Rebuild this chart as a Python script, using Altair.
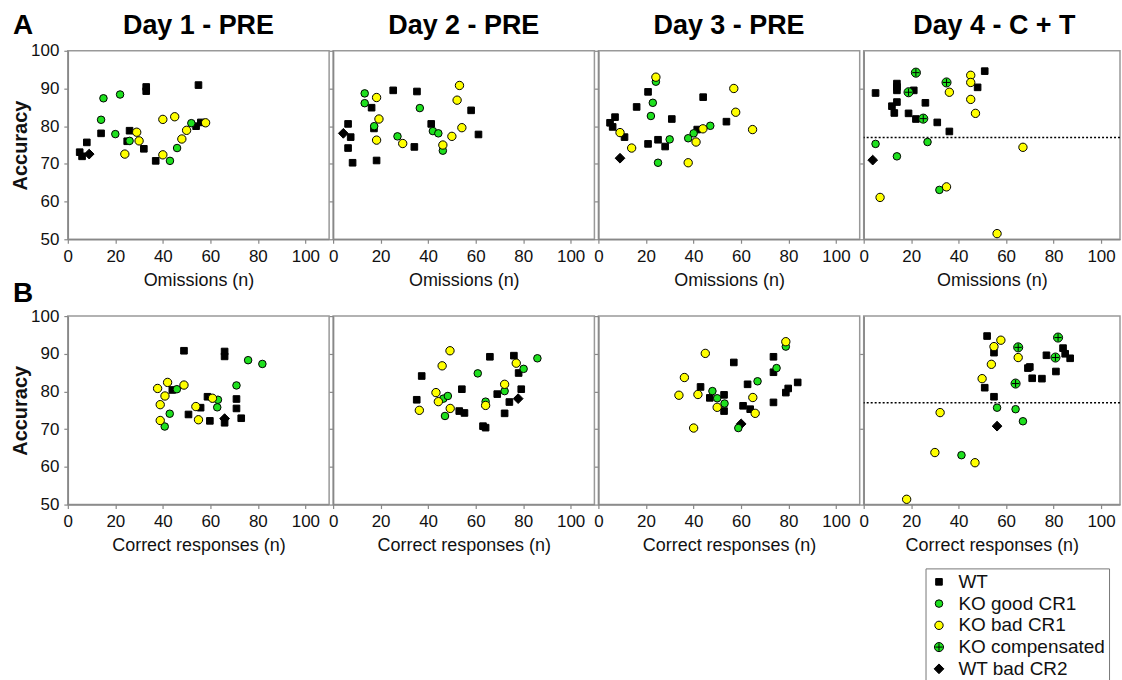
import altair as alt
import pandas as pd

# ---------------- data ----------------
GROUPS = ["WT", "KO good CR1", "KO bad CR1", "KO compensated", "WT bad CR2"]
DAY_TITLES = ["Day 1 - PRE", "Day 2 - PRE", "Day 3 - PRE", "Day 4 - C + T"]
ROW_LABELS = ["A", "B"]
X_TITLES = ["Omissions (n)", "Correct responses (n)"]
X_TICKS = [0, 20, 40, 60, 80, 100]
Y_TICKS = [50, 60, 70, 80, 90, 100]
THRESHOLD = [77]

# Row A: omissions vs accuracy
A1_WT = [(5, 73.1), (6, 72), (8, 75.7), (14, 78.1), (26, 78.8), (25, 76), (33, 90.4), (33, 89.3),
         (32, 74), (37, 70.8), (55, 90.9), (54, 80), (56, 81)]
A1_WTBAD = [(9, 72.6)]
A1_GOOD = [(15, 87.4), (22, 88.4), (14, 81.7), (20, 77.9), (26, 76.1), (43, 70.8), (46, 74.2), (52, 80.8)]
A1_BAD = [(24, 72.6), (29, 78.4), (30, 76.1), (40, 81.8), (45, 82.5), (40, 72.4), (50, 78.9), (48, 76.6), (58, 80.9)]
A1_COMP = []

A2_WT = [(6.3, 80.6), (7.4, 77.1), (6.3, 74.2), (8.2, 70.3), (16.2, 84.9), (17.2, 79.4), (18.3, 70.9),
         (25.3, 89.5), (35.3, 89.2), (34.2, 74.5), (41.3, 80.6), (58.1, 84.2), (61.2, 77.8)]
A2_WTBAD = [(4.3, 78.1)]
A2_GOOD = [(13.3, 88.7), (13.3, 86.1), (17.3, 80), (36.5, 84.8), (27.1, 77.3), (42, 78.7), (44.3, 78.1), (46.2, 73.5)]
A2_BAD = [(18.3, 87.6), (19.3, 81.9), (18.3, 76.3), (29.3, 75.4), (46.2, 75), (50, 77.3), (53.2, 90.8),
          (52.2, 86.9), (54.2, 79.6)]
A2_COMP = []

A3_WT = [(4.9, 80.9), (6, 79.8), (7, 82.4), (11, 77.1), (16.1, 85.1), (20.9, 89.1), (20.9, 75.3),
         (25.1, 76.4), (28.1, 74.6), (30.9, 81.9), (41.6, 79.1), (44.1, 87.7), (53.9, 81.2)]
A3_WTBAD = [(9.1, 71.5)]
A3_GOOD = [(24.2, 91.8), (22.9, 86.2), (22.1, 82.7), (30, 76.5), (25.1, 70.3), (37.8, 76.8), (40.1, 78.1), (47.1, 80.1)]
A3_BAD = [(24.2, 93), (9.1, 78.3), (14, 74.2), (37.8, 70.3), (41.1, 75.8), (44, 79.3), (57, 90),
          (57.8, 83.7), (64.9, 79.1)]
A3_COMP = []

A4_WT = [(5, 88.8), (14, 91.3), (14, 90.4), (14, 89.5), (11.9, 85.3), (14, 86.4), (12.9, 83.5),
         (18.9, 83.4), (21.1, 89.5), (22, 81.9), (26, 86.2), (31, 81), (36.1, 78.6), (48, 90.3), (51, 94.6)]
A4_WTBAD = [(3.8, 71)]
A4_GOOD = [(5, 75.3), (14, 72), (26.9, 75.8), (31.9, 63.1)]
A4_BAD = [(6.9, 61.1), (34.9, 63.9), (36.1, 89), (45.1, 93.5), (45.1, 91.6), (45.1, 87.1), (47.1, 83.4),
          (67.1, 74.4), (56.2, 51.5)]
A4_COMP = [(22, 94.2), (18.9, 89), (34.9, 91.6), (25.1, 82)]

# Row B: correct responses vs accuracy
B1_WT = [(48.9, 90.8), (66, 90.6), (66, 89.3), (44, 80.4), (50.8, 73.9), (55.9, 75.7), (58.8, 78.6),
         (59.8, 72.2), (71, 78), (71, 75.5), (73, 72.9), (66, 71.7)]
B1_WTBAD = [(66, 72.8)]
B1_GOOD = [(40.8, 70.7), (42.9, 74.1), (45.9, 80.6), (63.2, 77.8), (62.9, 75.8), (71, 81.6), (75.9, 88.3), (81.9, 87.3)]
B1_BAD = [(37.8, 80.8), (42, 82.4), (40.9, 78.8), (38.9, 76.5), (38.9, 72.3), (48.9, 81.7), (53.9, 76),
          (55, 72.5), (60.9, 78.2)]
B1_COMP = []

B2_WT = [(37.3, 84.1), (35.2, 77.8), (54.2, 80.6), (53.1, 74.8), (55.3, 74.3), (63.1, 70.8), (64.2, 70.4),
         (66, 89.2), (69.1, 79.3), (72.2, 74.2), (74.2, 77.2), (76.1, 89.5), (78.1, 84.9), (79.2, 80.6)]
B2_WTBAD = [(77.9, 78.1)]
B2_GOOD = [(47.1, 73.5), (46.4, 78.1), (48.3, 78.8), (60.9, 84.8), (64.2, 77.3), (72.2, 80.1), (80.2, 86), (86, 88.8)]
B2_BAD = [(36.3, 75), (43.3, 79.7), (44.3, 77.3), (49.3, 75.5), (49.2, 90.8), (45.9, 86.8), (64.2, 76.3),
          (72.2, 81.9), (77.1, 87.5)]
B2_COMP = []

B3_WT = [(43, 81.2), (46.9, 78.3), (52.9, 79.1), (52.9, 74.8), (57, 87.7), (60.9, 76.2), (62.8, 81.9),
         (63.9, 75.3), (73.7, 89.2), (73.7, 85.1), (73.7, 77.1), (78.9, 79.7), (79.9, 80.8), (83.9, 82.4)]
B3_WTBAD = [(60.1, 71.4)]
B3_GOOD = [(48, 80.1), (50, 78.2), (53.1, 76.8), (58.9, 70.3), (67, 82.7), (75, 86.2), (78.9, 91.9)]
B3_BAD = [(36.2, 83.7), (33.9, 79), (41.9, 79.2), (40.1, 70.3), (45, 90.1), (50, 75.8), (65, 78.4),
          (66, 74.2), (78.9, 93.2)]
B3_COMP = []

B4_WT = [(52, 94.7), (54.9, 90.3), (51, 81), (54.9, 78.6), (69.2, 86.2), (70, 86.5), (71, 83.5),
         (75.1, 83.4), (77, 89.6), (81, 85.3), (84, 91.5), (84.9, 90), (87, 88.8)]
B4_WTBAD = [(56.2, 70.8)]
B4_GOOD = [(56.2, 75.7), (64, 75.3), (67.1, 72.1), (41.2, 63.1)]
B4_BAD = [(18.1, 51.4), (30, 63.8), (32.2, 74.4), (46.9, 61.1), (49.9, 83.4), (53.8, 87.2), (54.9, 91.9),
          (57.8, 93.6), (65.1, 89)]
B4_COMP = [(65.1, 91.7), (81.9, 94.3), (80.8, 89), (64, 82.1)]

PANEL_DATA = [
    [(A1_WT, A1_GOOD, A1_BAD, A1_COMP, A1_WTBAD), (A2_WT, A2_GOOD, A2_BAD, A2_COMP, A2_WTBAD),
     (A3_WT, A3_GOOD, A3_BAD, A3_COMP, A3_WTBAD), (A4_WT, A4_GOOD, A4_BAD, A4_COMP, A4_WTBAD)],
    [(B1_WT, B1_GOOD, B1_BAD, B1_COMP, B1_WTBAD), (B2_WT, B2_GOOD, B2_BAD, B2_COMP, B2_WTBAD),
     (B3_WT, B3_GOOD, B3_BAD, B3_COMP, B3_WTBAD), (B4_WT, B4_GOOD, B4_BAD, B4_COMP, B4_WTBAD)],
]

# ---------------- styling ----------------
GREEN = "#1EE01E"
YELLOW = "#FFFF00"
COMP_PATH = "M-1,0A1,1,0,1,0,1,0A1,1,0,1,0,-1,0ZM-0.8,0L0.8,0M0,-0.8L0,0.8"
FILLS = ["#000000", GREEN, YELLOW, GREEN, "#000000"]
STROKES = ["#000000"] * 5
SHAPES = ["square", "circle", "circle", COMP_PATH, "diamond"]
SIZES = [44, 96, 96, 96, 70]
DRAW_RANK = [0, 2, 3, 4, 1]  # z-order per group (WT first, compensated last)
BOLD_FONT = "Liberation Sans, Arial, sans-serif"
FONT = "Liberation Sans, Arial, sans-serif"
PANEL_H = 189

LEG = alt.Legend(
    title=None, orient="none", legendX=860, legendY=519,
    padding=4, symbolOffset=0, labelOffset=10, rowPadding=1.8,
    labelFont=FONT, labelFontSize=19, labelColor="#111",
    symbolStrokeColor="black", symbolStrokeWidth=1,
    strokeColor="#777777", fillColor="white", labelLimit=300,
)


def make_panel(row, col):
    recs = []
    for gi, pts in enumerate(PANEL_DATA[row][col]):
        for x, y in pts:
            recs.append({"x": x, "y": y, "group": GROUPS[gi], "rank": DRAW_RANK[gi]})
    df = pd.DataFrame(recs)
    w = 262 if col < 3 else 257
    xmax = 110 if col < 3 else 108
    x_axis = alt.Axis(values=X_TICKS, title=X_TITLES[row], labelFlush=False, labelOverlap=False)
    if col == 0:
        y_axis = alt.Axis(values=Y_TICKS, title="Accuracy", titleFontWeight="bold", titleFontSize=20,
                          labelFlush=False, labelOverlap=False)
    else:
        y_axis = alt.Axis(values=Y_TICKS, title=None, labels=False)
    pts = alt.Chart(df).mark_point(filled=True, opacity=1).encode(
        x=alt.X("x:Q", scale=alt.Scale(domain=[0, xmax], nice=False, zero=False), axis=x_axis),
        y=alt.Y("y:Q", scale=alt.Scale(domain=[50, 100], nice=False, zero=False), axis=y_axis),
        fill=alt.Fill("group:N", scale=alt.Scale(domain=GROUPS, range=FILLS), legend=LEG),
        stroke=alt.Stroke("group:N", scale=alt.Scale(domain=GROUPS, range=STROKES), legend=LEG),
        shape=alt.Shape("group:N", scale=alt.Scale(domain=GROUPS, range=SHAPES), legend=LEG),
        size=alt.Size("group:N", scale=alt.Scale(domain=GROUPS, range=SIZES), legend=LEG),
        strokeWidth=alt.value(1),
        order=alt.Order("rank:Q"),
    )
    layers = [pts]
    if col == 3:
        rule = alt.Chart(pd.DataFrame({"thr": THRESHOLD})).mark_rule(
            color="black", strokeDash=[2, 2], strokeWidth=1.5
        ).encode(y="thr:Q")
        layers.insert(0, rule)
    if row == 0:
        ttl = alt.Chart(alt.Data(values=[{"t": DAY_TITLES[col]}])).mark_text(
            font=BOLD_FONT, fontSize=27, fontWeight="bold", align="center", baseline="alphabetic", color="black"
        ).encode(text="t:N", x=alt.value(131), y=alt.value(-17))
        layers.append(ttl)
    if col == 0:
        lab = alt.Chart(alt.Data(values=[{"t": ROW_LABELS[row]}])).mark_text(
            font=BOLD_FONT, fontSize=28, fontWeight="bold", align="left", baseline="alphabetic", color="black"
        ).encode(text="t:N", x=alt.value(-55), y=alt.value(-17 if row == 0 else -14))
        layers.append(lab)
    return alt.layer(*layers).properties(width=w, height=PANEL_H)


panels = [make_panel(r, c) for r in range(2) for c in range(4)]

chart = alt.concat(
    *panels, columns=4, spacing={"row": 77, "column": 4}, bounds="flush"
).properties(
    padding={"left": 9, "top": 10, "right": 0, "bottom": 0}
).configure_view(
    stroke="#999999", strokeWidth=1.5
).configure_axis(
    grid=False, labelFont=FONT, labelFontSize=17, labelColor="#111111",
    tickColor="#888888", domainColor="#888888", tickSize=4, tickWidth=1.2, domainWidth=1.5,
    labelPadding=5, titleFont=FONT, titleFontSize=18, titleFontWeight="normal", titleColor="#111111",
).configure_axisX(titlePadding=7).configure_axisY(titlePadding=0)

chart.save("out.html", embed_options={"renderer": "svg", "actions": False})
